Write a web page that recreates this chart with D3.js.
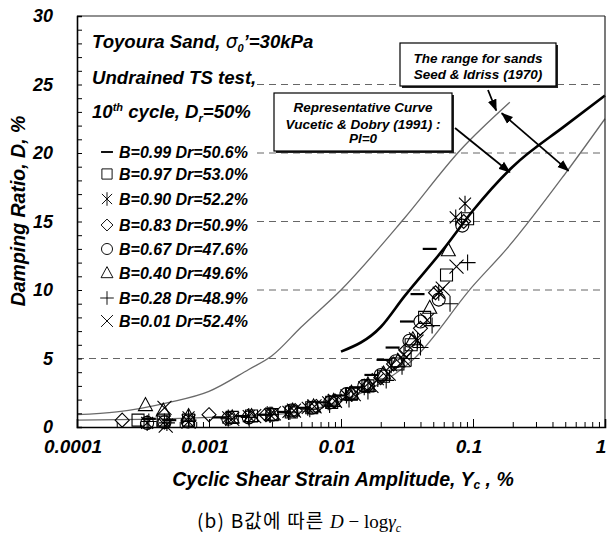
<!DOCTYPE html>
<html>
<head>
<meta charset="utf-8">
<script src="https://cdn.jsdelivr.net/npm/d3@7"></script>
<style>
  body { margin: 0; background: #fff; }
  svg { display: block; }
  text { font-family: "Liberation Sans", Arial, sans-serif; }
</style>
</head>
<body>
<svg id="chart" width="607" height="541"></svg>
<script>
// ---- Test series: cyclic shear strain amplitude (%) and damping ratio (%) ----
const seriesLabels = [
  "B=0.99 Dr=50.6%", "B=0.97 Dr=53.0%", "B=0.90 Dr=52.2%", "B=0.83 Dr=50.9%",
  "B=0.67 Dr=47.6%", "B=0.40 Dr=49.6%", "B=0.28 Dr=48.9%", "B=0.01 Dr=52.4%"
];
const seriesMarkers = ["dash", "square", "star", "diamond", "circle", "triangle", "plus", "cross"];

const strainB099 = [0.00035, 0.0005, 0.0012, 0.0018, 0.0026, 0.0037, 0.0052, 0.0072, 0.0098, 0.013, 0.017, 0.021, 0.0246, 0.0316, 0.038, 0.047];
const dampB099   = [0.6, 0.5, 0.7, 0.8, 0.9, 1.1, 1.4, 1.8, 2.3, 2.9, 3.8, 4.9, 5.8, 7.7, 9.7, 13.0];

const strainB097 = [0.00029, 0.00045, 0.0007, 0.0015, 0.0021, 0.003, 0.0042, 0.006, 0.0085, 0.012, 0.016, 0.021, 0.027, 0.034, 0.043, 0.063, 0.091];
const dampB097   = [0.5, 0.5, 0.5, 0.7, 0.8, 0.9, 1.1, 1.4, 1.8, 2.4, 3.0, 3.7, 4.6, 6.0, 8.0, 11.1, 15.2];

const strainB090 = [0.00034, 0.00046, 0.0007, 0.0014, 0.002, 0.0029, 0.004, 0.0056, 0.008, 0.011, 0.015, 0.019, 0.024, 0.030, 0.038, 0.055, 0.074, 0.087];
const dampB090   = [0.3, 0.4, 0.7, 0.7, 0.8, 0.9, 1.1, 1.4, 1.8, 2.3, 2.9, 3.5, 4.5, 5.3, 6.3, 9.8, 15.3, 16.3];

const strainB083 = [0.00022, 0.001, 0.0027, 0.0045, 0.0065, 0.009, 0.012, 0.016, 0.02, 0.025, 0.031, 0.04, 0.052, 0.085];
const dampB083   = [0.5, 0.9, 0.9, 1.2, 1.5, 1.9, 2.4, 3.0, 3.6, 4.6, 5.6, 7.2, 9.8, 15.0];

const strainB067 = [0.00034, 0.00046, 0.00069, 0.0014, 0.002, 0.003, 0.0042, 0.006, 0.0083, 0.011, 0.015, 0.02, 0.026, 0.033, 0.040, 0.055, 0.083];
const dampB067   = [0.3, 0.35, 0.4, 0.6, 0.7, 0.9, 1.2, 1.4, 1.8, 2.4, 3.0, 3.8, 4.8, 6.3, 7.7, 9.3, 14.7];

const strainB040 = [0.00033, 0.00045, 0.0007, 0.0015, 0.0021, 0.003, 0.0043, 0.0062, 0.0088, 0.012, 0.016, 0.021, 0.027, 0.035, 0.047, 0.065];
const dampB040   = [1.6, 1.2, 0.8, 0.7, 0.8, 0.9, 1.2, 1.5, 1.9, 2.5, 3.1, 3.9, 4.8, 6.4, 8.7, 12.9];

const strainB028 = [0.00035, 0.00048, 0.0007, 0.0014, 0.002, 0.0029, 0.0041, 0.0058, 0.0082, 0.0115, 0.016, 0.022, 0.029, 0.034, 0.040, 0.049, 0.067, 0.091];
const dampB028   = [0.4, 0.3, 0.5, 0.6, 0.7, 0.9, 1.1, 1.3, 1.6, 2.0, 2.6, 3.4, 4.4, 5.0, 5.8, 7.4, 9.0, 12.0];

const strainB001 = [0.00046, 0.00047, 0.0007, 0.0015, 0.0022, 0.0031, 0.0044, 0.0063, 0.009, 0.0125, 0.017, 0.023, 0.03, 0.037, 0.045, 0.059, 0.075];
const dampB001   = [1.4, 0.1, 0.4, 0.6, 0.8, 1.0, 1.2, 1.5, 1.9, 2.4, 3.0, 3.9, 4.9, 6.4, 7.8, 10.1, 11.7];

// ---- Reference curves ----
// Seed & Idriss (1970) range for sands: upper and lower bounds
const seedUpperStrain = [0.0001, 0.0002, 0.0005, 0.001, 0.002, 0.003, 0.005, 0.01, 0.03, 0.08, 0.19];
const seedUpperDamp   = [0.9, 1.1, 1.8, 2.6, 4.2, 5.2, 7.3, 10.0, 15.2, 20.2, 23.7];
const seedLowerStrain = [0.0001, 0.0003, 0.001, 0.003, 0.005, 0.01, 0.02, 0.035, 0.1, 0.18, 0.5, 1.0];
const seedLowerDamp   = [0.5, 0.55, 0.7, 0.9, 1.1, 1.9, 3.2, 4.9, 10.3, 13.0, 18.5, 22.5];
// Vucetic & Dobry (1991) representative curve, PI = 0
const vdStrain = [0.01, 0.02, 0.03, 0.06, 0.1, 0.2, 0.5, 1.0];
const vdDamp   = [5.5, 7.3, 9.5, 13.0, 15.8, 19.0, 22.0, 24.2];

// ---- Axis ticks ----
const yTickValues = [0, 5, 10, 15, 20, 25, 30];
const xTickValues = [0.0001, 0.001, 0.01, 0.1, 1];
const xTickLabels = ["0.0001", "0.001", "0.01", "0.1", "1"];

// ---- Layout ----
const svg = d3.select("#chart");
const plotL = 77, plotR = 605, plotT = 16, plotB = 427;
const x = d3.scaleLog().domain([0.0001, 1]).range([plotL, plotR]);
const y = d3.scaleLinear().domain([0, 30]).range([plotB, plotT]);

const boldItalic = (sel, size) => sel.attr("font-weight", "bold").attr("font-style", "italic").attr("font-size", size);

// arrowhead
const defs = svg.append("defs");
defs.append("marker")
  .attr("id", "arrowHead").attr("viewBox", "0 0 12 10")
  .attr("refX", 11).attr("refY", 5)
  .attr("markerWidth", 12).attr("markerHeight", 10)
  .attr("markerUnits", "userSpaceOnUse")
  .attr("orient", "auto-start-reverse")
  .append("path").attr("d", "M0,0.5 L12,5 L0,9.5 Z").attr("fill", "#000");

// horizontal dashed grid
svg.append("g").selectAll("line")
  .data(yTickValues.filter(v => v > 0 && v < 30))
  .join("line")
  .attr("x1", plotL).attr("x2", plotR)
  .attr("y1", d => y(d)).attr("y2", d => y(d))
  .attr("stroke", "#666").attr("stroke-width", 1)
  .attr("stroke-dasharray", "7,5");

// white panel behind the title and legend block
svg.append("rect").attr("x", plotL + 1).attr("y", plotT + 2)
  .attr("width", 179).attr("height", 316).attr("fill", "#fff");

// reference curves
const lineGen = d3.line().x(d => x(d[0])).y(d => y(d[1])).curve(d3.curveMonotoneX);
svg.append("path").datum(d3.zip(seedUpperStrain, seedUpperDamp))
  .attr("d", lineGen).attr("fill", "none").attr("stroke", "#6a6a6a").attr("stroke-width", 1.3);
svg.append("path").datum(d3.zip(seedLowerStrain, seedLowerDamp))
  .attr("d", lineGen).attr("fill", "none").attr("stroke", "#6a6a6a").attr("stroke-width", 1.3);
svg.append("path").datum(d3.zip(vdStrain, vdDamp))
  .attr("d", lineGen).attr("fill", "none").attr("stroke", "#000").attr("stroke-width", 2.6);

// marker shapes
function markerPath(type) {
  switch (type) {
    case "dash": return "M-7,0H7";
    case "square": return "M-6,-6H6V6H-6Z";
    case "star": return "M-6,-6L6,6M-6,6L6,-6M0,-8V8";
    case "diamond": return "M0,-7L7,0L0,7L-7,0Z";
    case "circle": return "M6.5,0A6.5,6.5 0 1,1 -6.5,0A6.5,6.5 0 1,1 6.5,0Z";
    case "triangle": return "M0,-7.5L7,5.5H-7Z";
    case "plus": return "M-8,0H8M0,-8V8";
    case "cross": return "M-7,-7L7,7M-7,7L7,-7";
  }
}
function markerStroke(type) { return type === "dash" ? 2.2 : 1.1; }

const seriesData = [
  d3.zip(strainB099, dampB099), d3.zip(strainB097, dampB097),
  d3.zip(strainB090, dampB090), d3.zip(strainB083, dampB083),
  d3.zip(strainB067, dampB067), d3.zip(strainB040, dampB040),
  d3.zip(strainB028, dampB028), d3.zip(strainB001, dampB001)
];

seriesData.forEach((pts, i) => {
  svg.append("g").selectAll("path").data(pts).join("path")
    .attr("transform", d => `translate(${x(d[0])},${y(d[1])})`)
    .attr("d", markerPath(seriesMarkers[i]))
    .attr("fill", "none").attr("stroke", "#000")
    .attr("stroke-width", markerStroke(seriesMarkers[i]));
});

// frame
svg.append("line").attr("x1", plotL).attr("x2", plotR).attr("y1", plotT).attr("y2", plotT)
  .attr("stroke", "#222").attr("stroke-width", 1.2);
svg.append("line").attr("x1", plotR).attr("x2", plotR).attr("y1", plotT).attr("y2", plotB)
  .attr("stroke", "#222").attr("stroke-width", 1.2);

// y axis: inward minor ticks at every unit, labels at multiples of 5
const yAxis = svg.append("g").attr("transform", `translate(${plotL},0)`)
  .call(d3.axisLeft(y).tickValues(d3.range(0, 31, 1)).tickSize(-5).tickPadding(24)
    .tickFormat(d => yTickValues.includes(d) ? String(d) : ""));
yAxis.select(".domain").attr("stroke-width", 1.6);
yAxis.selectAll("text").call(boldItalic, 18).attr("fill", "#000");

// x axis: log minor ticks and decade ticks
const minorX = [];
for (let e = -4; e < 0; e++) for (let m = 2; m <= 9; m++) minorX.push(m * Math.pow(10, e));
const xMinor = svg.append("g").attr("transform", `translate(0,${plotB})`)
  .call(d3.axisBottom(x).tickValues(minorX).tickSize(-5).tickFormat(""));
xMinor.select(".domain").remove();
const xAxis = svg.append("g").attr("transform", `translate(0,${plotB})`)
  .call(d3.axisBottom(x).tickValues(xTickValues).tickSize(-8).tickFormat(""));
xAxis.select(".domain").attr("stroke-width", 1.6);
// decade labels
svg.append("g").selectAll("text").data(xTickValues).join("text")
  .attr("x", d => x(d) - 4).attr("y", 453)
  .attr("text-anchor", "middle").call(boldItalic, 19)
  .text((d, i) => xTickLabels[i]);

// axis titles
svg.append("text").attr("transform", `translate(25,211) rotate(-90)`)
  .attr("text-anchor", "middle").call(boldItalic, 19.5)
  .text("Damping Ratio, D, %");
const xt = svg.append("text").attr("x", 343).attr("y", 486).attr("text-anchor", "middle").call(boldItalic, 19.5);
xt.append("tspan").text("Cyclic Shear Strain Amplitude, Y");
xt.append("tspan").attr("font-size", 12).attr("dy", 3).text("c");
xt.append("tspan").attr("dy", -3).text(" , %");

// title block
const t1 = svg.append("text").attr("x", 92).attr("y", 48).call(boldItalic, 18.6);
t1.append("tspan").text("Toyoura Sand, ");
t1.append("tspan").attr("font-family", "DejaVu Sans").attr("font-weight", "normal").text("σ");
t1.append("tspan").attr("font-size", 11).attr("dy", 4).text("0");
t1.append("tspan").attr("dy", -4).text("’=30kPa");
svg.append("text").attr("x", 92).attr("y", 84).call(boldItalic, 18.6).text("Undrained TS test,");
const t3 = svg.append("text").attr("x", 92).attr("y", 118).call(boldItalic, 18.6);
t3.append("tspan").text("10");
t3.append("tspan").attr("font-size", 11).attr("dy", -7).text("th");
t3.append("tspan").attr("dy", 7).text(" cycle, D");
t3.append("tspan").attr("font-size", 11).attr("dy", 4).text("r");
t3.append("tspan").attr("dy", -4).text("=50%");

// legend
const legendRows = [152, 174, 199, 225, 249, 273, 298, 321];
seriesLabels.forEach((lab, i) => {
  const cy = legendRows[i];
  svg.append("path")
    .attr("d", markerPath(seriesMarkers[i]))
    .attr("fill", "none").attr("stroke", "#000")
    .attr("stroke-width", markerStroke(seriesMarkers[i]))
    .attr("transform", `translate(107,${cy}) scale(0.85)`);
  svg.append("text").attr("x", 119).attr("y", cy + 6).call(boldItalic, 16).text(lab);
});

// annotation boxes
function noteBox(x0, y0, w, h, lines, lineY) {
  svg.append("rect").attr("x", x0 + 2).attr("y", y0 + 2).attr("width", w).attr("height", h).attr("fill", "#222");
  svg.append("rect").attr("x", x0).attr("y", y0).attr("width", w).attr("height", h)
    .attr("fill", "#fff").attr("stroke", "#000").attr("stroke-width", 1.2);
  lines.forEach((ln, i) => {
    svg.append("text").attr("x", x0 + w / 2).attr("y", lineY[i]).attr("text-anchor", "middle")
      .call(boldItalic, 13.5).text(ln);
  });
}
noteBox(400, 43, 156, 43, ["The range for sands", "Seed & Idriss (1970)"], [63, 79]);
noteBox(274, 93, 178, 58, ["Representative Curve", "Vucetic & Dobry (1991) :", "PI=0"], [112, 129, 143]);

// arrows (end points placed on the curves in data units)
function arrow(p0, p1, both) {
  svg.append("line")
    .attr("x1", p0[0]).attr("y1", p0[1]).attr("x2", p1[0]).attr("y2", p1[1])
    .attr("stroke", "#000").attr("stroke-width", 1.8)
    .attr("marker-end", "url(#arrowHead)")
    .attr("marker-start", both ? "url(#arrowHead)" : null);
}
arrow([455, 128], [x(0.19), y(18.6)], false);
arrow([488, 90], [x(0.15), y(23.1)], false);
arrow([x(0.165), y(22.9)], [x(0.53), y(18.7)], true);

// caption
const cap = svg.append("text").attr("x", 299).attr("y", 528).attr("text-anchor", "middle").attr("font-size", 19);
cap.append("tspan").attr("font-family", "Noto Sans CJK KR").attr("letter-spacing", 1.2).text("(b) B값에 따른 ");
cap.append("tspan").attr("font-family", "Liberation Serif").attr("font-style", "italic").text("D");
cap.append("tspan").attr("font-family", "Liberation Serif").text(" − log");
cap.append("tspan").attr("font-family", "Liberation Serif").attr("font-style", "italic").text("γ");
cap.append("tspan").attr("font-family", "Liberation Serif").attr("font-style", "italic")
  .attr("font-size", 12).attr("dy", 4).text("c");
</script>
</body>
</html>
